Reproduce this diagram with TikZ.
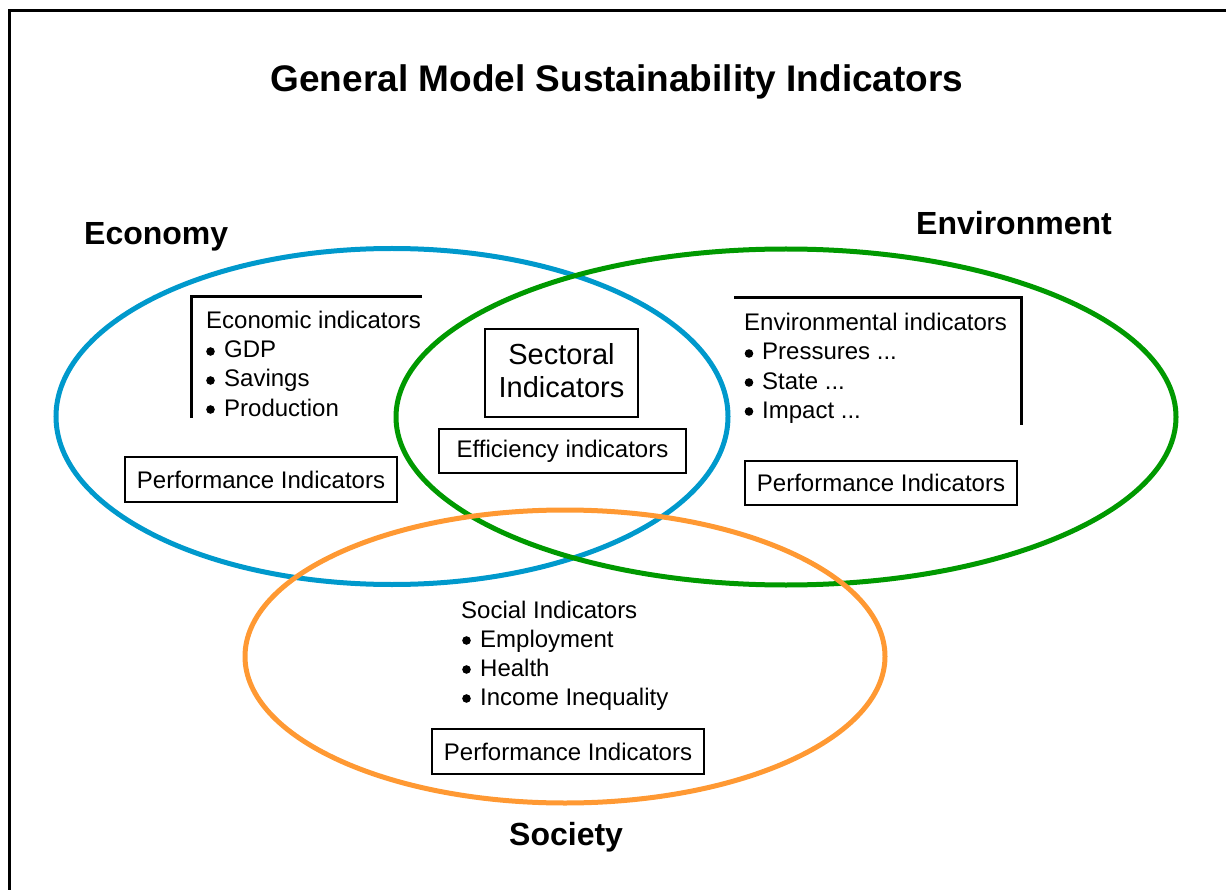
\documentclass[tikz,border=0pt]{standalone}
\usepackage{fontspec}
\setmainfont{Liberation Sans}
\definecolor{econblue}{RGB}{0,153,204}
\definecolor{envgreen}{RGB}{0,153,0}
\definecolor{socorange}{RGB}{255,153,51}
\begin{document}
\begin{tikzpicture}[x=1pt,y=-1pt,
  ring/.style={line width=5pt},
  bracket/.style={line width=3pt},
  box/.style={draw,line width=1.3pt,fill=white,inner sep=0pt},
  bigtitle/.style={font=\fontsize{32}{36}\selectfont\bfseries},
  txt/.style={font=\fontsize{24}{28}\selectfont,anchor=base west,inner sep=0pt},
  bul/.style={fill=black},
]
\useasboundingbox (0,0) rectangle (1226,890);
% frame
\draw[line width=3pt] (1226,11) -- (9,11) -- (9,890);
% title
\node[font=\fontsize{37}{40}\selectfont\bfseries,anchor=base,inner sep=0pt] (title) at (617,92) {General Model Sustainability Indicators};
% ellipses
\draw[ring,econblue] (392,416.5) ellipse [x radius=336, y radius=168];
\draw[ring,envgreen] (786,417) ellipse [x radius=390, y radius=168];
\draw[ring,socorange] (565,656.5) ellipse [x radius=320, y radius=146.5];
% circle labels
\node[bigtitle,anchor=base west,inner sep=0pt] (economy) at (84,245) {Economy};
\node[bigtitle,anchor=base west,inner sep=0pt] (environment) at (916,235) {Environment};
\node[bigtitle,anchor=base west,inner sep=0pt] (society) at (509,845) {Society};
% economic bracket
\coordinate (ebTop) at (422,297);
\coordinate (ebCorner) at (191,297);
\coordinate (ebBottom) at (191,418);
\draw[bracket] (ebTop) -- (ebCorner) -- (ebBottom);
\node[txt] (ec0) at (206,329) {Economic indicators};
\node[txt] (ec1) at (224,358) {GDP};
\node[txt] (ec2) at (224,387) {Savings};
\node[txt] (ec3) at (224,416) {Production};
\foreach \b in {358,387,416} \fill[bul] (210.5,\b-6.5) circle [radius=4.3pt];
% environmental bracket
\coordinate (nbTop) at (734,298);
\coordinate (nbCorner) at (1021,298);
\coordinate (nbBottom) at (1021,425);
\draw[bracket] (nbTop) -- (nbCorner) -- (nbBottom);
\node[txt] (en0) at (744,331) {Environmental indicators};
\node[txt] (en1) at (762,360) {Pressures ...};
\node[txt] (en2) at (762,389) {State ...};
\node[txt] (en3) at (762,418) {Impact ...};
\foreach \b in {360,389,418} \fill[bul] (749,\b-6.5) circle [radius=4.3pt];
% social
\node[txt] (so0) at (461,618) {Social Indicators};
\node[txt] (so1) at (480,647) {Employment};
\node[txt] (so2) at (480,676) {Health};
\node[txt] (so3) at (480,705) {Income Inequality};
\foreach \b in {647,676,705} \fill[bul] (466.5,\b-6.5) circle [radius=4.3pt];
% boxes
\node[box,minimum width=153pt,minimum height=88pt] (sectoral) at (561.5,373) {};
\node[align=center,inner sep=0pt,font=\fontsize{29}{33}\selectfont] (sectoralText) at ([yshift=2pt]sectoral.center) {Sectoral\\Indicators};
\node[box,minimum width=247pt,minimum height=44pt,
      font=\fontsize{24}{28}\selectfont] (eff) at (562.5,451) {Efficiency indicators};
\node[box,minimum width=272pt,minimum height=45pt,
      font=\fontsize{24}{28}\selectfont] (perfE) at (261,479.5) {Performance Indicators};
\node[box,minimum width=272pt,minimum height=44pt,
      font=\fontsize{24}{28}\selectfont] (perfN) at (881,483) {Performance Indicators};
\node[box,minimum width=272pt,minimum height=45pt,
      font=\fontsize{24}{28}\selectfont] (perfS) at (568,751.5) {Performance Indicators};
\end{tikzpicture}
\end{document}
